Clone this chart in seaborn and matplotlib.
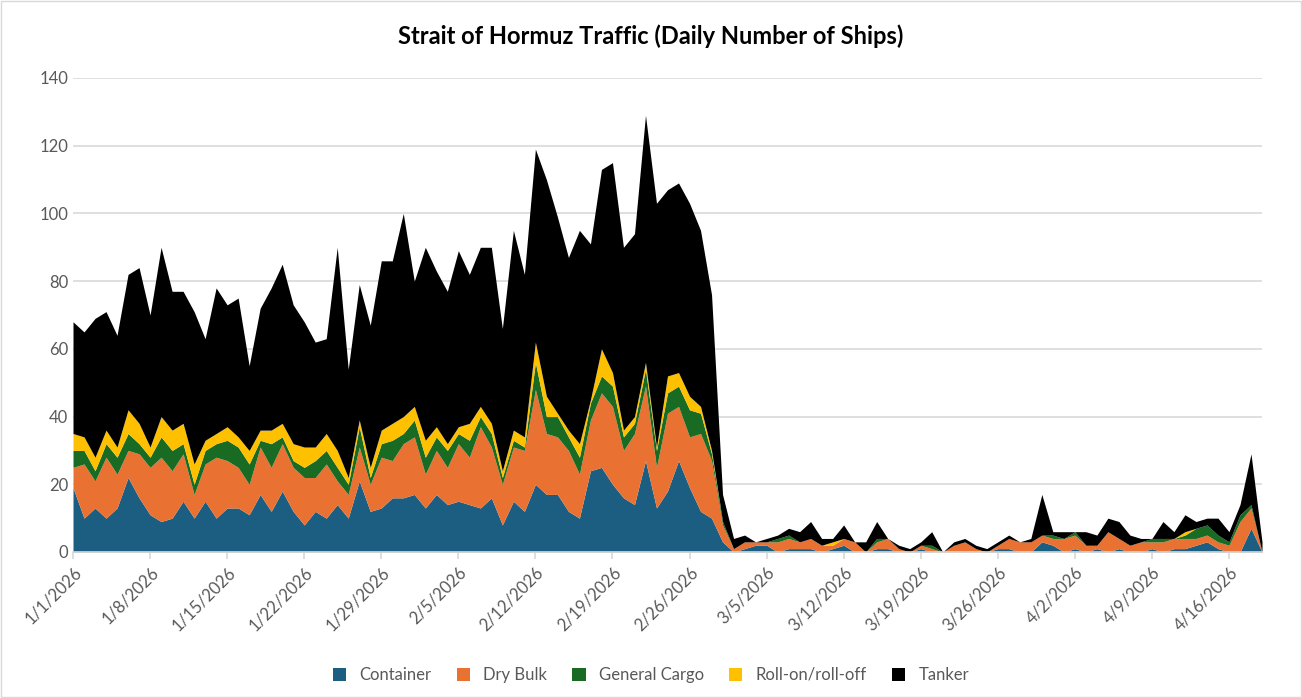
import numpy as np
import pandas as pd
import matplotlib
matplotlib.use("Agg")
import matplotlib.pyplot as plt
import seaborn as sns

dates = pd.date_range("2026-01-01", "2026-04-19", freq="D")

total = [68,65,69,71,64,82,84,70,90,77,
         77,71,63,78,73,75,55,72,78,85,
         73,68,62,63,90,54,79,67,86,86,
         100,80,90,83,77,89,82,90,90,66,
         95,82,119,110,99,87,95,91,113,115,
         90,94,129,103,107,109,103,95,76,
         17,
         4,5,3,4,5,7,6,9,4,4,
         8,3,3,9,4,2,1,3,6,0,
         3,4,2,1,3,5,3,4,17,
         6,6,6,6,5,10,9,5,4,4,
         9,6,11,9,10,10,6,14,29,3]

container = [19,10,13,10,13,22,16,11,9,10,15,10,15,10,13,13,11,17,12,18,12,8,12,10,14,10,21,12,13,
             16,16,17,13,17,14,15,14,13,16,8,15,12,20,17,17,12,10,24,25,20,16,14,27,13,18,27,19,12,10,
             3,
             0,1,2,2,0,1,1,1,0,1,
             2,0,0,1,1,0,0,1,0,0,
             0,0,0,0,1,1,0,0,3,
             2,0,1,0,1,0,1,0,0,1,
             0,1,1,2,3,1,0,0,7,0]
dry_bulk = [6,16,8,18,10,8,13,14,19,14,14,7,11,18,14,12,9,14,13,14,13,14,10,16,7,7,10,8,15,
            11,16,17,10,13,11,17,14,24,15,12,16,18,28,18,17,18,13,15,22,23,14,21,22,12,23,16,15,23,17,
            5,
            1,2,1,1,3,3,2,3,2,1,
            2,3,0,2,3,1,0,1,1,0,
            2,3,1,0,1,3,3,3,2,
            2,4,4,2,1,6,3,2,3,2,
            3,3,3,2,2,2,2,9,6,0]
general_cargo = [5,4,3,4,5,5,3,3,6,6,3,3,4,4,6,6,6,2,7,2,2,3,5,4,4,3,6,2,4,
                 6,3,5,5,4,5,3,5,3,4,2,2,1,8,5,6,4,5,5,5,6,4,3,5,5,6,6,8,6,2,
                 1,
                 0,0,0,0,1,1,0,0,0,0,
                 0,0,0,1,0,0,0,0,1,0,
                 0,0,0,0,0,0,0,0,0,
                 1,0,1,0,0,0,0,0,0,1,
                 1,0,1,3,3,2,1,2,1,0]
roro = [5,4,4,4,3,7,6,3,6,6,6,6,3,3,4,3,4,3,4,4,5,6,4,5,5,2,2,3,4,
        5,5,4,5,3,2,2,5,3,3,2,3,3,6,6,1,2,4,1,8,4,2,2,2,1,5,4,4,2,1,
        0,
        0,0,0,0,0,0,0,0,0,1,
        0,0,0,0,0,0,0,0,0,0,
        0,0,0,0,0,0,0,0,0,
        0,0,0,0,0,0,0,0,0,0,
        0,0,1,0,0,0,0,0,0,0]

c = np.array(container, float); d = np.array(dry_bulk, float)
g = np.array(general_cargo, float); r = np.array(roro, float)
tanker = np.clip(np.array(total, float) - (c + d + g + r), 0, None)

sns.set_theme(style="white")
plt.rcParams['font.family'] = ['Lato', 'DejaVu Sans']

fig = plt.figure(figsize=(13.02, 6.98), dpi=100)
ax = fig.add_axes([73/1302, 1-552/698, (1262-73)/1302, (552-78)/698])
colors = ["#1B5E82", "#E97132", "#196B24", "#FFC000", "#000000"]
labels = ["Container", "Dry Bulk", "General Cargo", "Roll-on/roll-off", "Tanker"]
x = np.arange(len(dates))
ax.stackplot(x, c, d, g, r, tanker, colors=colors, labels=labels, linewidth=0)

ax.set_xlim(0, len(dates) - 1)
ax.set_ylim(0, 140)
ax.set_yticks(range(0, 141, 20))
ax.yaxis.grid(True, color="#D9D9D9", linewidth=1.2)
ax.set_axisbelow(True)
for s in ["top", "right", "left"]:
    ax.spines[s].set_visible(False)
ax.spines["bottom"].set_color("#D9D9D9")
ax.spines["bottom"].set_linewidth(1.2)
ticks = x[::7]
ax.set_xticks(ticks)
ax.set_xticklabels([f"{dt.month}/{dt.day}/{dt.year}" for dt in dates[::7]],
                   rotation=45, ha="right", rotation_mode="anchor", fontsize=12, color="#595959")
ax.tick_params(axis="x", length=5, color="#D9D9D9", bottom=True, pad=4)
ax.tick_params(axis="y", labelsize=12, labelcolor="#595959", length=0)

fig.suptitle("Strait of Hormuz Traffic (Daily Number of Ships)", x=0.5, y=0.965,
             fontsize=17, fontweight="bold", color="#000000")
h, l = ax.get_legend_handles_labels()
fig.legend(h, l, loc="lower center", ncol=5, frameon=False, bbox_to_anchor=(0.5, 0.0),
           fontsize=12, handlelength=0.8, handleheight=0.8, columnspacing=1.5,
           labelcolor="#595959")
fig.patches.append(matplotlib.patches.Rectangle((0.001, 0.001), 0.998, 0.998, transform=fig.transFigure,
                   fill=False, edgecolor="#D9D9D9", linewidth=1))
fig.savefig("out.png", dpi=100)
